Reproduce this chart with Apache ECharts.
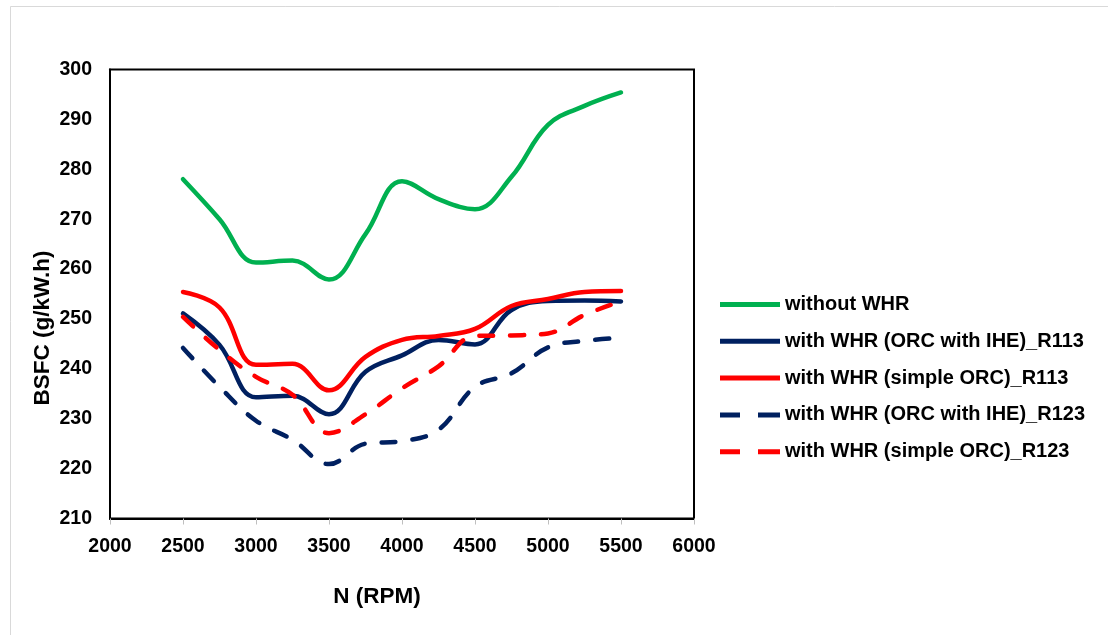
<!DOCTYPE html>
<html>
<head>
<meta charset="utf-8">
<script src="https://cdn.jsdelivr.net/npm/echarts@6/dist/echarts.min.js"></script>
<style>
html,body{margin:0;padding:0;background:#fff;}
#chart{width:1108px;height:635px;}
</style>
</head>
<body>
<div id="chart"></div>
<script>
const rpm = [2500, 2750, 3000, 3250, 3500, 3750, 4000, 4250, 4500, 4750, 5000, 5250, 5500];
const withoutWHR = [278.0, 270.0, 261.3, 261.7, 257.9, 267.0, 277.6, 274.0, 272.0, 278.5, 288.9, 292.7, 295.4];
const iheR113 = [251.1, 244.8, 234.3, 234.6, 230.9, 239.4, 242.7, 245.8, 244.9, 251.8, 253.6, 253.7, 253.5];
const simpleR113 = [255.4, 252.3, 240.8, 241.0, 235.7, 242.4, 245.8, 246.6, 248.0, 252.6, 254.0, 255.4, 255.6];
const iheR123 = [244.2, 236.4, 229.6, 225.8, 220.9, 225.0, 225.5, 227.8, 236.4, 239.1, 244.3, 245.6, 246.2];
const simpleR123 = [250.4, 243.8, 238.4, 234.8, 227.1, 230.9, 236.1, 240.5, 246.6, 246.7, 247.1, 250.8, 253.5];
const seriesNames = ['without WHR', 'with WHR (ORC with IHE)_R113', 'with WHR (simple ORC)_R113', 'with WHR (ORC with IHE)_R123', 'with WHR (simple ORC)_R123'];

const FONT = '"Liberation Sans", Arial, sans-serif';
const pair = arr => rpm.map((x, i) => [x, arr[i]]);
const dash = [14, 17];
const solidIcon = 'path://M0,0 L60,0 L60,5 L0,5 Z';
const dashIcon = 'path://M0,0 L20,0 L20,5 L0,5 Z M38,0 L60,0 L60,5 L38,5 Z';

function mk(name, data, color, dashed) {
  return {
    name: name, type: 'line', data: pair(data), smooth: 0.4, symbol: 'none',
    lineStyle: { color: color, width: 4.5, type: dashed ? dash : 'solid', cap: 'round', join: 'round' },
    itemStyle: { color: color },
    emphasis: { disabled: true }
  };
}

const chart = echarts.init(document.getElementById('chart'), null, { renderer: 'canvas' });
chart.setOption({
  animation: false,
  backgroundColor: '#fff',
  grid: { left: 110, right: 414, top: 69.5, bottom: 116.5, show: true, borderColor: '#000', borderWidth: 2, backgroundColor: 'transparent' },
  xAxis: {
    type: 'value', min: 2000, max: 6000, interval: 500,
    axisLine: { show: true, lineStyle: { color: '#000', width: 2 } },
    axisTick: { show: true, inside: false, length: 6, lineStyle: { color: '#bfbfbf', width: 1 } },
    axisLabel: { color: '#000', fontFamily: FONT, fontWeight: 'bold', fontSize: 19.5, margin: 18, formatter: v => String(v) },
    splitLine: { show: false }
  },
  yAxis: {
    type: 'value', min: 210, max: 300, interval: 10,
    axisLine: { show: true, lineStyle: { color: '#000', width: 2 } },
    axisTick: { show: false },
    axisLabel: { color: '#000', fontFamily: FONT, fontWeight: 'bold', fontSize: 19.5, margin: 18 },
    splitLine: { show: false }
  },
  legend: {
    orient: 'vertical', left: 720, top: 294.5, padding: 0,
    itemWidth: 60, itemHeight: 5, itemGap: 16.8,
    textStyle: { color: '#000', fontFamily: FONT, fontWeight: 'bold', fontSize: 20, lineHeight: 20 },
    data: [
      { name: seriesNames[0], icon: solidIcon },
      { name: seriesNames[1], icon: solidIcon },
      { name: seriesNames[2], icon: solidIcon },
      { name: seriesNames[3], icon: dashIcon },
      { name: seriesNames[4], icon: dashIcon }
    ]
  },
  graphic: [
    { type: 'rect', silent: true, z: -10, shape: { x: 10.5, y: 6.5, width: 1200, height: 700 }, style: { fill: 'none', stroke: '#d9d9d9', lineWidth: 1 } },
    { type: 'text', x: 377, y: 597, style: { text: 'N (RPM)', font: 'bold 22.5px ' + FONT, fill: '#000', textAlign: 'center', textVerticalAlign: 'middle' } },
    { type: 'text', x: 43, y: 328, rotation: Math.PI / 2, style: { text: 'BSFC (g/kW.h)', font: 'bold 22.5px ' + FONT, fill: '#000', textAlign: 'center', textVerticalAlign: 'middle' } }
  ],
  series: [
    mk(seriesNames[0], withoutWHR, '#00b050', false),
    mk(seriesNames[1], iheR113, '#002060', false),
    mk(seriesNames[2], simpleR113, '#ff0000', false),
    mk(seriesNames[3], iheR123, '#002060', true),
    mk(seriesNames[4], simpleR123, '#ff0000', true)
  ]
});
</script>
</body>
</html>
